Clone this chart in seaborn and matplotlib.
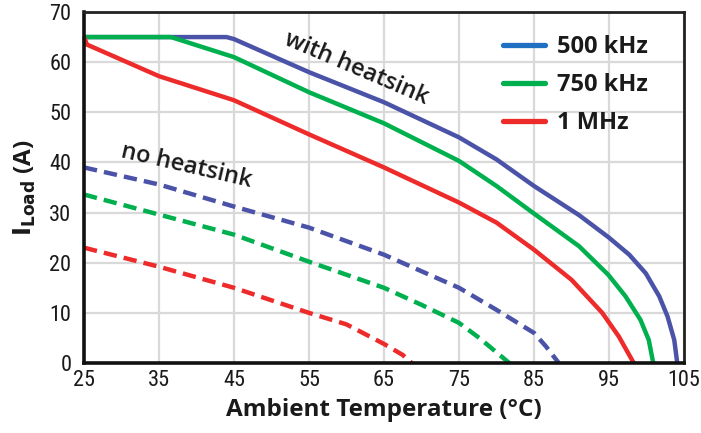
import matplotlib
matplotlib.use("Agg")
import matplotlib.pyplot as plt
from matplotlib import font_manager
from matplotlib.lines import Line2D
import seaborn as sns
import pandas as pd

# ---- data ----
blue_hs_x = [25, 44, 45, 55, 65, 75, 80, 85, 91, 95, 97.7, 99.9, 101.7, 102.8, 103.7, 104.1]
blue_hs_y = [65, 65, 64.6, 58, 52, 45, 40.6, 35.3, 29.5, 25, 21.6, 17.9, 13.3, 9.3, 4.6, 0]
green_hs_x = [25, 36.6, 45, 55, 65, 75, 80, 85, 91, 94.9, 97.2, 99.2, 100.3, 100.9]
green_hs_y = [65, 65, 61, 54, 47.8, 40.3, 35.3, 29.8, 23.3, 17.6, 13.3, 8.6, 4.6, 0]
red_hs_x = [25, 25.4, 35, 45, 55, 65, 75, 80, 85, 90, 94.1, 96.3, 98.3]
red_hs_y = [65, 63.5, 57.2, 52.4, 45.6, 39, 32, 28, 22.6, 16.6, 10, 5.3, 0]
blue_nh_x = [25, 35, 45, 55, 65, 70, 75, 80, 85, 86.6, 88.3]
blue_nh_y = [39, 35.6, 31.2, 27, 21.6, 18.3, 15, 10.6, 6, 3.3, 0]
green_nh_x = [25, 35, 45, 55, 65, 70, 75, 77.7, 81.7]
green_nh_y = [33.6, 29.6, 25.6, 20.2, 15, 11.6, 8, 5, 0]
red_nh_x = [25, 35, 45, 55, 60, 65, 67.5, 68.7]
red_nh_y = [23, 19.2, 15, 10, 7.7, 3.8, 1.6, 0]
legend_labels = ["500 kHz", "750 kHz", "1 MHz"]
x_ticks = [25, 35, 45, 55, 65, 75, 85, 95, 105]
y_ticks = [0, 10, 20, 30, 40, 50, 60, 70]

sns.set_theme(style="white")
avail = {f.name for f in font_manager.fontManager.ttflist}
narrow_family = "DejaVu Sans"
for cand in ["Liberation Sans Narrow", "Roboto Condensed", "Open Sans Condensed", "DejaVu Sans Condensed"]:
    if cand in avail:
        narrow_family = cand
        break
plt.rcParams["font.family"] = ["Open Sans", "DejaVu Sans"]

c_blue, c_green, c_red = "#4b53a8", "#00b04f", "#ee2b2b"
c_leg_blue = "#1f6fc2"
ink = "#1a1a1a"

fig = plt.figure(figsize=(7.01, 4.33), dpi=100)
ax = fig.add_axes([84 / 701, 1 - 363 / 433, (684 - 84) / 701, (363 - 12) / 433])

series = [
    (blue_hs_x, blue_hs_y, c_blue, "-"),
    (green_hs_x, green_hs_y, c_green, "-"),
    (red_hs_x, red_hs_y, c_red, "-"),
    (blue_nh_x, blue_nh_y, c_blue, "--"),
    (green_nh_x, green_nh_y, c_green, "--"),
    (red_nh_x, red_nh_y, c_red, "--"),
]
for xs, ys, col, ls in series:
    df = pd.DataFrame({"x": xs, "y": ys})
    sns.lineplot(data=df, x="x", y="y", ax=ax, color=col, lw=3.2, sort=False,
                 estimator=None, legend=False)
    line = ax.lines[-1]
    line.set_linestyle(ls)
    if ls == "--":
        line.set_dashes((3.0, 1.6))
    line.set_solid_capstyle("butt")
    line.set_dash_capstyle("butt")
    line.set_solid_joinstyle("round")
    line.set_clip_on(False)

ax.set_xlim(25, 105)
ax.set_ylim(0, 70)
ax.set_xticks(x_ticks)
ax.set_yticks(y_ticks)
tick_kw = dict(fontfamily=narrow_family, fontstretch="condensed", fontsize=16, color=ink)
ax.set_xticklabels([str(t) for t in x_ticks], **tick_kw)
ax.set_yticklabels([str(t) for t in y_ticks], **tick_kw)
ax.tick_params(axis="x", length=0, pad=5)
ax.tick_params(axis="y", length=0, pad=9)
ax.grid(True, color="#d9d9d9", lw=1.6)
ax.set_axisbelow(True)
for side in ["left", "bottom"]:
    ax.spines[side].set_linewidth(2.6)
    ax.spines[side].set_color("#111111")
for side in ["top", "right"]:
    ax.spines[side].set_linewidth(2.0)
    ax.spines[side].set_color("#222222")

ax.set_xlabel("Ambient Temperature (°C)", fontsize=17.5, fontweight="bold", color=ink, labelpad=5)
ax.set_ylabel(r"$\mathbf{I_{Load}}$ (A)", fontsize=17.5, fontweight="bold", color=ink, labelpad=8)

ax.text(61.3, 58.8, "with heatsink", rotation=-23, ha="center", va="center",
        fontsize=17, fontweight="semibold", color=ink, rotation_mode="anchor")
ax.text(38.7, 39.2, "no heatsink", rotation=-13, ha="center", va="center",
        fontsize=17, fontweight="semibold", color=ink, rotation_mode="anchor")

handles = [Line2D([0], [0], color=c, lw=3.8) for c in (c_leg_blue, c_green, c_red)]
leg = ax.legend(handles, legend_labels, loc="upper left", bbox_to_anchor=(0.698, 0.935),
                frameon=False, handlelength=1.8, handletextpad=0.5, labelspacing=0.6,
                borderpad=0, borderaxespad=0,
                prop={"weight": "bold", "size": 17})
for t in leg.get_texts():
    t.set_color(ink)

fig.savefig("out.png", dpi=100)
